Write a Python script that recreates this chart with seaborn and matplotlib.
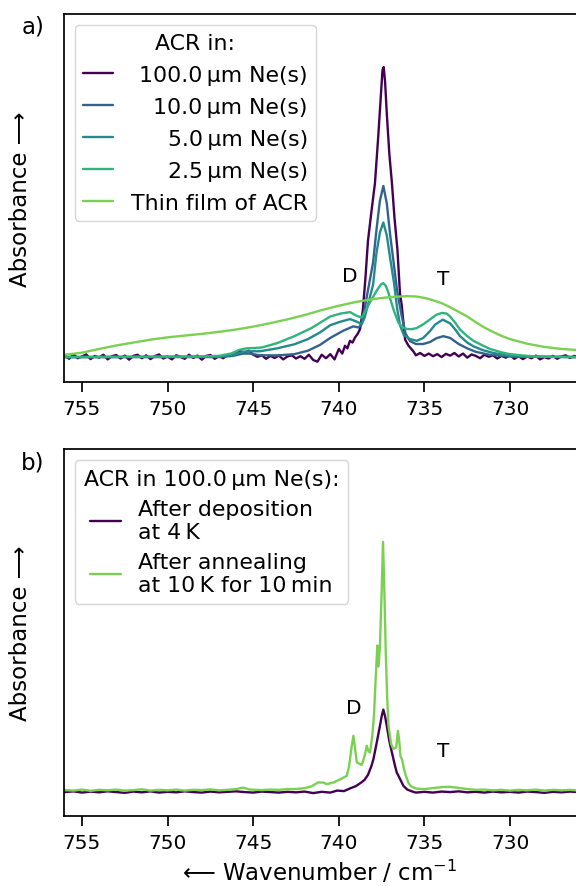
"""Matrix isolation IR spectra of ACR in Ne(s) (two panels)."""
import seaborn as sns
import matplotlib.pyplot as plt

# ---- panel a) : ACR in Ne(s) of different thickness, normalised absorbance ----
wn_100 = [756.00, 755.75, 755.50, 755.25, 755.00, 754.75, 754.50, 754.25, 754.00, 753.75,
          753.50, 753.25, 753.00, 752.75, 752.50, 752.25, 752.00, 751.75, 751.50, 751.25,
          751.00, 750.75, 750.50, 750.25, 750.00, 749.75, 749.50, 749.25, 749.00, 748.75,
          748.50, 748.25, 748.00, 747.75, 747.50, 747.25, 747.00, 746.75, 746.50, 746.25,
          746.00, 745.75, 745.50, 745.25, 745.00, 744.75, 744.50, 744.25, 744.00, 743.75,
          743.50, 743.25, 743.00, 742.75, 742.50, 742.25, 742.00, 741.75, 741.50, 741.25,
          741.00, 740.75, 740.50, 740.25,
          740.00, 739.80, 739.64, 739.50, 739.35, 739.20, 739.05, 738.90, 738.76, 738.60,
          738.45, 738.30, 738.10, 737.89, 737.70, 737.55, 737.45, 737.38, 737.30, 737.20,
          737.05, 736.90, 736.75, 736.58, 736.43, 736.33, 736.23, 736.13, 735.94, 735.84,
          735.65,
          735.50, 735.25, 735.00, 734.75, 734.50, 734.25, 734.00, 733.75, 733.50, 733.25,
          733.00, 732.75, 732.50, 732.25, 732.00, 731.75, 731.50, 731.25, 731.00, 730.75,
          730.50, 730.25, 730.00, 729.75, 729.50, 729.25, 729.00, 728.75, 728.50, 728.25,
          728.00, 727.75, 727.50, 727.25, 727.00, 726.75, 726.50, 726.25, 726.00]
ab_100 = [0.006, -0.006, 0.010, -0.004, 0.002, 0.009, -0.007, 0.004, -0.002, 0.008,
          -0.008, 0.003, 0.007, -0.005, 0.005, -0.009, 0.004, 0.008, -0.004, 0.006,
          -0.007, 0.003, 0.009, -0.005, 0.002, -0.008, 0.006, 0.001, -0.006, 0.008,
          -0.003, 0.005, -0.009, 0.004, 0.007, -0.006, 0.003, -0.004, 0.009, 0.004,
          0.012, 0.020, 0.016, 0.022, 0.008, 0.001, 0.006, -0.006, 0.004, -0.003,
          0.005, -0.008, 0.002, 0.006, -0.005, 0.003, -0.006, 0.008, -0.010, -0.016,
          0.008, -0.004, 0.010, -0.008,
          0.028, 0.012, 0.039, 0.030, 0.056, 0.050, 0.068, 0.080, 0.097, 0.160,
          0.270, 0.400, 0.500, 0.600, 0.760, 0.900, 0.990, 1.000, 0.950, 0.840,
          0.700, 0.600, 0.480, 0.372, 0.220, 0.180, 0.120, 0.060, 0.040, 0.033,
          0.020,
          0.006, 0.014, 0.004, 0.012, 0.003, 0.010, 0.000, 0.011, 0.005, 0.014,
          0.002, 0.012, -0.002, 0.009, 0.004, -0.004, 0.008, 0.001, 0.006, -0.005,
          0.004, -0.002, 0.006, -0.006, 0.003, -0.007, 0.002, -0.004, 0.005, -0.008,
          0.000, -0.005, 0.004, -0.006, 0.002, 0.006, -0.003, 0.004, 0.000]

wn_10 = [756.0, 747.0, 746.2, 745.6, 745.2, 744.6, 743.5, 742.6, 741.8, 741.1,
         740.5, 739.74, 739.15, 738.86, 738.7, 738.57, 738.3, 738.0, 737.8, 737.6,
         737.4, 737.2, 737.0, 736.8, 736.6, 736.33, 736.1, 735.84, 735.5, 735.07,
         734.67, 734.3, 733.9, 733.5, 733.0, 732.5, 732.0, 731.2, 730.0, 726.0]
ab_10 = [0.0, 0.0, 0.004, 0.012, 0.012, 0.006, 0.006, 0.010, 0.022, 0.042,
         0.066, 0.091, 0.106, 0.102, 0.110, 0.142, 0.230, 0.326, 0.440, 0.540,
         0.590, 0.530, 0.420, 0.326, 0.230, 0.142, 0.080, 0.055, 0.045, 0.045,
         0.052, 0.065, 0.072, 0.066, 0.045, 0.030, 0.018, 0.008, 0.002, 0.0]

wn_5 = [756.0, 747.0, 746.2, 745.6, 745.2, 744.6, 743.6, 742.6, 741.8, 741.1,
        740.5, 739.9, 739.35, 738.95, 738.66, 738.5, 738.3, 738.0, 737.8, 737.6,
        737.4, 737.2, 737.0, 736.78, 736.6, 736.43, 736.2, 735.84, 735.45, 735.07,
        734.67, 734.38, 733.93, 733.5, 733.2, 732.92, 732.5, 732.14, 731.6, 730.97,
        730.0, 729.0, 726.0]
ab_5 = [0.0, 0.001, 0.008, 0.018, 0.020, 0.020, 0.030, 0.044, 0.062, 0.085,
        0.110, 0.122, 0.131, 0.122, 0.114, 0.135, 0.180, 0.250, 0.360, 0.430,
        0.464, 0.420, 0.340, 0.257, 0.170, 0.110, 0.075, 0.062, 0.056, 0.066,
        0.090, 0.112, 0.129, 0.116, 0.095, 0.072, 0.050, 0.037, 0.024, 0.014,
        0.004, 0.001, 0.0]

wn_25 = [756.0, 752.0, 748.0, 747.0, 746.3, 745.8, 745.4, 745.0, 744.5, 743.6,
         742.6, 741.6, 740.5, 739.9, 739.35, 738.95, 738.66, 738.4, 738.18, 737.79,
         737.55, 737.4, 737.25, 737.11, 736.82, 736.53, 736.3, 736.03, 735.75, 735.45,
         735.07, 734.67, 734.3, 733.99, 733.7, 733.5, 733.2, 732.92, 732.5, 732.14,
         731.6, 731.17, 730.5, 730.0, 729.0, 728.0, 726.0]
ab_25 = [0.000, 0.001, 0.002, 0.004, 0.012, 0.025, 0.030, 0.031, 0.033, 0.048,
         0.072, 0.100, 0.140, 0.150, 0.155, 0.142, 0.136, 0.165, 0.189, 0.229,
         0.250, 0.255, 0.245, 0.223, 0.166, 0.120, 0.103, 0.097, 0.096, 0.100,
         0.113, 0.130, 0.146, 0.152, 0.150, 0.140, 0.118, 0.095, 0.072, 0.056,
         0.040, 0.028, 0.016, 0.010, 0.004, 0.001, 0.000]

wn_film = [756.0, 755.0, 754.0, 753.0, 752.0, 751.0, 750.0, 749.0, 748.0, 747.0,
           746.0, 745.0, 744.0, 743.0, 742.0, 741.0, 740.0, 739.0, 738.0, 737.0,
           736.0, 735.5, 735.0, 734.5, 734.0, 733.5, 733.0, 732.5, 732.0, 731.5,
           731.0, 730.5, 730.0, 729.0, 728.0, 727.0, 726.0]
ab_film = [0.008, 0.015, 0.028, 0.040, 0.050, 0.060, 0.068, 0.074, 0.080, 0.087,
           0.095, 0.105, 0.117, 0.130, 0.145, 0.162, 0.177, 0.190, 0.200, 0.207,
           0.210, 0.209, 0.204, 0.196, 0.186, 0.172, 0.156, 0.140, 0.120, 0.102,
           0.087, 0.073, 0.062, 0.046, 0.035, 0.028, 0.024]

labels_a = ["100.0\u2009µm Ne(s)", "10.0\u2009µm Ne(s)", "5.0\u2009µm Ne(s)",
            "2.5\u2009µm Ne(s)", "Thin film of ACR"]
colors_a = ["#440154", "#33638d", "#238a8d", "#2fb47c", "#7ad151"]

# ---- panel b) : 100 um Ne(s), before / after annealing ----
wn_dep = [756.0, 755.5, 755.0, 754.5, 754.0, 753.5, 753.0, 752.5, 752.0, 751.5,
          751.0, 750.5, 750.0, 749.5, 749.0, 748.5, 748.0, 747.5, 747.0, 746.5,
          746.0, 745.5, 745.0, 744.5, 744.0, 743.5, 743.0, 742.5, 742.0, 741.5,
          741.0, 740.5, 740.1, 739.7, 739.3, 739.0, 738.7, 738.5, 738.3, 738.1,
          737.98, 737.8, 737.6, 737.5, 737.4, 737.3, 737.2, 737.05, 736.9, 736.75,
          736.62, 736.4, 736.23, 736.0, 735.7, 735.5,
          735.0, 734.5, 734.0, 733.5, 733.0, 732.5, 732.0, 731.5, 731.0, 730.5,
          730.0, 729.5, 729.0, 728.5, 728.0, 727.5, 727.0, 726.5, 726.0]
ab_dep = [-0.004, -0.001, -0.006, -0.002, -0.005, -0.001, -0.004, -0.007, -0.002, -0.005,
          -0.001, -0.006, -0.003, -0.005, -0.001, -0.004, -0.006, -0.002, -0.005, -0.003,
          -0.001, -0.004, -0.006, -0.002, -0.004, -0.006, -0.003, -0.005, -0.002, -0.008,
          -0.003, -0.006, 0.002, 0.000, 0.012, 0.020, 0.034, 0.045, 0.065, 0.100,
          0.128, 0.190, 0.262, 0.300, 0.327, 0.300, 0.262, 0.200, 0.155, 0.110,
          0.075, 0.045, 0.021, 0.006, -0.002, -0.006,
          -0.003, -0.006, -0.002, -0.004, -0.001, -0.005, -0.003, -0.006, -0.002, -0.005,
          -0.003, -0.006, -0.002, -0.004, -0.007, -0.003, -0.005, -0.002, -0.004]

wn_ann = [756.0, 755.5, 755.0, 754.5, 754.0, 753.5, 753.0, 752.5, 752.0, 751.5,
          751.0, 750.5, 750.0, 749.5, 749.0, 748.5, 748.0, 747.5, 747.0, 746.5,
          746.0, 745.6, 745.2, 744.5, 744.0, 743.5, 743.0, 742.5,
          742.0, 741.6, 741.2, 740.9, 740.7, 740.3, 739.9, 739.54, 739.4, 739.25,
          739.15, 739.05, 738.95, 738.8, 738.66, 738.5, 738.37, 738.27, 738.18, 738.05,
          737.95, 737.85, 737.75, 737.68, 737.6, 737.5, 737.42, 737.34, 737.26, 737.18,
          737.1, 736.95, 736.82, 736.65, 736.55, 736.47, 736.4, 736.3, 736.2, 736.1,
          735.95, 735.8, 735.5,
          735.0, 734.5, 734.0, 733.5, 733.0, 732.5, 732.0, 731.5, 731.0, 730.5,
          730.0, 729.5, 729.0, 728.5, 728.0, 727.5, 727.0, 726.5, 726.0]
ab_ann = [0.004, 0.002, 0.006, 0.001, 0.005, 0.003, 0.006, 0.002, 0.004, 0.007,
          0.002, 0.005, 0.003, 0.006, 0.002, 0.005, 0.004, 0.007, 0.003, 0.005,
          0.008, 0.014, 0.006, 0.004, 0.006, 0.005, 0.008, 0.008,
          0.012, 0.019, 0.035, 0.034, 0.028, 0.035, 0.048, 0.061, 0.100, 0.180,
          0.222, 0.170, 0.115, 0.110, 0.105, 0.140, 0.182, 0.160, 0.155, 0.220,
          0.300, 0.450, 0.584, 0.500, 0.580, 0.800, 1.000, 0.800, 0.557, 0.380,
          0.262, 0.190, 0.169, 0.175, 0.242, 0.200, 0.140, 0.125, 0.090, 0.065,
          0.035, 0.020, 0.010,
          0.008, 0.012, 0.016, 0.017, 0.013, 0.008, 0.005, 0.006, 0.003, 0.005,
          0.002, 0.005, 0.003, 0.006, 0.002, 0.005, 0.003, 0.005, 0.002]

labels_b = ["After deposition\nat 4\u2009K", "After annealing\nat 10\u2009K for 10\u2009min"]
colors_b = ["#440154", "#7ad151"]

xticks = [755, 750, 745, 740, 735, 730]

sns.set_style("ticks")
plt.rcParams["font.family"] = ["DejaVu Sans"]
plt.rcParams.update({
    "axes.linewidth": 1.25,
    "xtick.major.width": 1.25,
    "xtick.major.size": 7,
    "xtick.major.pad": 5,
    "xtick.labelsize": 14.5,
    "axes.labelsize": 16.5,
    "legend.fontsize": 15.8,
    "legend.title_fontsize": 15.8,
    "axes.edgecolor": "black",
    "xtick.color": "black",
    "text.color": "black",
    "axes.labelcolor": "black",
})

fig = plt.figure(figsize=(5.76, 8.87), dpi=100)
ax_a = fig.add_axes([64 / 576, 1 - 383 / 887, 512 / 576, 368 / 887])
ax_b = fig.add_axes([64 / 576, 1 - 817 / 887, 512 / 576, 367 / 887])

series_a = [(wn_100, ab_100), (wn_10, ab_10), (wn_5, ab_5), (wn_25, ab_25), (wn_film, ab_film)]
for (x, y), lab, c in zip(series_a, labels_a, colors_a):
    sns.lineplot(x=x, y=y, color=c, label=lab, lw=1.7, ax=ax_a)

for (x, y), lab, c in zip([(wn_dep, ab_dep), (wn_ann, ab_ann)], labels_b, colors_b):
    sns.lineplot(x=x, y=y, color=c, label=lab, lw=1.7, ax=ax_b)

ax_a.set_ylim(-0.086, 1.183)
ax_b.set_ylim(-0.10, 1.373)

for ax in (ax_a, ax_b):
    ax.set_xlim(756.05, 726.15)
    ax.set_xticks(xticks)
    ax.set_yticks([])
    ax.set_ylabel("Absorbance \u27f6")
    ax.yaxis.set_label_coords(-0.062, 0.5)
    ax.spines["right"].set_visible(False)
    ax.set_xlabel("")

ax_b.set_xlabel("\u27f5 Wavenumber / cm$^{-1}$")

ax_a.text(739.35, 0.28, "D", ha="center", va="center", fontsize=14.5)
ax_a.text(733.9, 0.27, "T", ha="center", va="center", fontsize=14.5)
ax_b.text(739.15, 0.336, "D", ha="center", va="center", fontsize=14.5)
ax_b.text(733.9, 0.162, "T", ha="center", va="center", fontsize=14.5)

fig.text(33 / 576, 1 - 16 / 887, "a)", ha="center", va="top", fontsize=16.5)
fig.text(33 / 576, 1 - 451 / 887, "b)", ha="center", va="top", fontsize=16.5)

leg_a = ax_a.legend(title="ACR in:", loc="upper left", handlelength=1.4,
                    borderpad=0.35, labelspacing=0.55, edgecolor="#cccccc")
leg_b = ax_b.legend(title="ACR in 100.0\u2009µm Ne(s):", loc="upper left", handlelength=1.4,
                    borderpad=0.4, labelspacing=0.45, edgecolor="#cccccc")
for leg in (leg_a, leg_b):
    for line in leg.get_lines():
        line.set_linewidth(1.7)

# right-align the entries of legend a
fig.canvas.draw()
r = fig.canvas.get_renderer()
texts = leg_a.get_texts()
widths = [t.get_window_extent(r).width for t in texts]
for t, w in zip(texts, widths):
    t.set_position((max(widths) - w, 0))

fig.savefig("out.png", dpi=100)
